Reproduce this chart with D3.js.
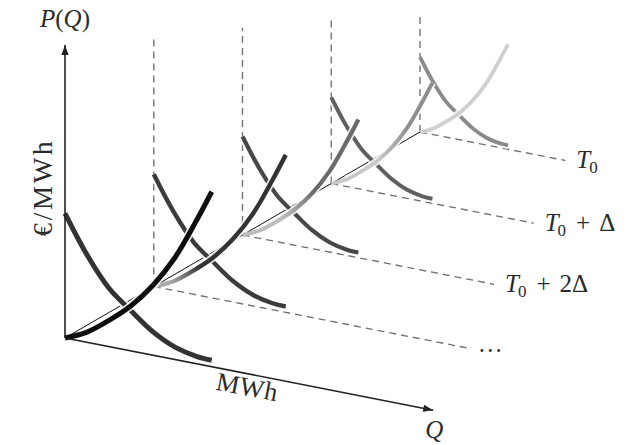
<!DOCTYPE html>
<html><head><meta charset="utf-8">
<script src="https://cdn.jsdelivr.net/npm/d3@7"></script>
<style>
body{margin:0;background:#fff}
svg{display:block}
text{font-family:"Liberation Serif","DejaVu Serif",serif;fill:#2a2a2a}
</style>
</head><body>
<svg id="chart" width="631" height="445"></svg>
<script>
// ---------------- data ----------------
const timeIndex   = [0, 1, 2, 3, 4];                 // slices (front -> back)
const depthScale  = [1, 0.9, 0.79, 0.69, 0.6];        // perspective shrink per slice
const supplyQ     = [0, 1.5, 3, 4.5, 6, 7.5, 9, 10];
const supplyP     = [0, 0.7, 1.8, 3.1, 4.8, 7.0, 9.9, 12.0];
const demandQ     = [0, 1.5, 3, 4.5, 6, 7.5, 9, 10];
const demandP     = [8.55, 6.0, 4.0, 2.75, 1.6, 0.85, 0.5, 0.45];
const guideHeight = [0, 19.2, 18.0, 16.2, 13.5];      // vertical dashed guides (price units)
const guideLength = [0, 23.7, 21.7, 20.0, 16.5];      // dashed guides along Q (MWh units)
const guideLabels = ["", "…", "T0 + 2Δ", "T0 + Δ", "T0"];
const axisPMax = 20.1, axisQMax = 25.1;
const axisLabels = {p: "€/MWh", q: "MWh", pTitle: "P(Q)", qTitle: "Q"};

// ---------------- styles ----------------
const supplyColor     = ['#0d0d0d', '#333333', '#6a6a6a', '#8e8e8e', '#cfcfcf'];
const supplyFadeColor = ['#0d0d0d', '#ababab', '#bdbdbd', '#c9c9c9', '#cfcfcf'];
const fadeFrom = [0, 0.08, 0.25, 0.35, 0];
const fadeTo   = [0, 0.25, 0.5, 0.65, 0];
const demandColor = ['#333333', '#3b3b3b', '#474747', '#606060', '#8a8a8a'];
const strokeW = [5, 4.4, 4.2, 4.0, 3.8];

// ---------------- scales ----------------
const svg = d3.select('#chart');
const qPx = d3.scaleLinear().domain([0, 10]).range([0, 146.7]);
const pPx = d3.scaleLinear().domain([0, 12]).range([0, 175]);
const baseX = d3.scaleLinear().domain([0, 4]).range([65, 420]);
const baseY = d3.scaleLinear().domain([0, 4]).range([338, 132]);
const slope = 0.196;

function proj(t, q, p) {
  const s = depthScale[t];
  const dx = s * qPx(q);
  return [baseX(t) + dx, baseY(t) + dx * slope - s * pPx(p)];
}
const line = d3.line().curve(d3.curveCatmullRom.alpha(0.5));
const straight = d3.line();

const defs = svg.append('defs');

// ---------------- guides ----------------
const gGuides = svg.append('g');
timeIndex.filter(t => t > 0).forEach(t => {
  gGuides.append('path')
    .attr('d', straight([proj(t, 0, 0), proj(t, 0, guideHeight[t])]))
    .attr('stroke', '#707070').attr('stroke-width', 1.35).attr('stroke-dasharray', '7 5').attr('fill', 'none');
  gGuides.append('path')
    .attr('d', straight([proj(t, 0, 0), proj(t, guideLength[t], 0)]))
    .attr('stroke', '#707070').attr('stroke-width', 1.35).attr('stroke-dasharray', '7 5').attr('fill', 'none');
  const end = proj(t, guideLength[t], 0);
  const lab = guideLabels[t];
  const tx = svg.append('text').attr('x', end[0] + 11).attr('y', end[1] + 8).attr('font-size', 25).attr('fill', '#333');
  if (lab.startsWith('T0')) {
    tx.append('tspan').attr('font-style', 'italic').text('T');
    tx.append('tspan').attr('font-size', 17).attr('dx', -1).attr('dy', 5).text('0');
    const rest = lab.slice(2).trim();
    if (rest) {
      const parts = rest.split(' ');
      tx.append('tspan').attr('dx', 10).attr('dy', -5).text(parts[0]);
      tx.append('tspan').attr('dx', 9).text(parts[1]);
    }
  } else {
    tx.attr('y', end[1] + 4).attr('letter-spacing', 2).text(lab);
  }
});

// time axis (thin solid)
svg.append('path')
  .attr('d', straight([proj(0, 0, 0), proj(4, 0, 0)]))
  .attr('stroke', '#111').attr('stroke-width', 1).attr('fill', 'none');

// ---------------- curves ----------------
const gCurves = svg.append('g');
[...timeIndex].reverse().forEach(t => {
  const dPts = demandQ.map((q, i) => proj(t, q, demandP[i]));
  const sPts = supplyQ.map((q, i) => proj(t, q, supplyP[i]));
  // demand
  gCurves.append('path').attr('d', line(dPts)).attr('fill', 'none')
    .attr('stroke', '#fff').attr('stroke-width', strokeW[t] + 3.5).attr('stroke-opacity', 0.85);
  gCurves.append('path').attr('d', line(dPts)).attr('fill', 'none')
    .attr('stroke', demandColor[t]).attr('stroke-width', strokeW[t]);
  // supply with fade gradient
  const gid = 'sg' + t;
  const grad = defs.append('linearGradient').attr('id', gid).attr('gradientUnits', 'userSpaceOnUse')
    .attr('x1', sPts[0][0]).attr('y1', sPts[0][1])
    .attr('x2', sPts[sPts.length - 1][0]).attr('y2', sPts[sPts.length - 1][1]);
  grad.append('stop').attr('offset', 0).attr('stop-color', supplyFadeColor[t]);
  grad.append('stop').attr('offset', fadeFrom[t]).attr('stop-color', supplyFadeColor[t]);
  grad.append('stop').attr('offset', fadeTo[t]).attr('stop-color', supplyColor[t]);
  grad.append('stop').attr('offset', 1).attr('stop-color', supplyColor[t]);
  gCurves.append('path').attr('d', line(sPts.slice(1))).attr('fill', 'none')
    .attr('stroke', '#fff').attr('stroke-width', strokeW[t] + 3.5).attr('stroke-opacity', 0.85);
  gCurves.append('path').attr('d', line(sPts)).attr('fill', 'none')
    .attr('stroke', `url(#${gid})`).attr('stroke-width', strokeW[t]);
});

// ---------------- axes ----------------
function arrow(from, to, color) {
  svg.append('path').attr('d', straight([from, to])).attr('stroke', color).attr('stroke-width', 1.6).attr('fill', 'none');
  const ang = Math.atan2(to[1] - from[1], to[0] - from[0]);
  const L = 10, W = 3.6;
  const bx = to[0] - L * Math.cos(ang), by = to[1] - L * Math.sin(ang);
  const px = -Math.sin(ang) * W, py = Math.cos(ang) * W;
  svg.append('path').attr('d', `M${to[0]},${to[1]}L${bx + px},${by + py}L${bx - px},${by - py}Z`).attr('fill', color);
}
const O = proj(0, 0, 0);
const pTop = proj(0, 0, axisPMax);
const qEnd = proj(0, axisQMax, 0);
arrow(O, pTop, '#222');
arrow(O, qEnd, '#222');

// axis titles
const pt = svg.append('text').attr('x', pTop[0]).attr('y', pTop[1] - 18).attr('text-anchor', 'middle').attr('font-size', 25);
pt.append('tspan').attr('font-style', 'italic').text('P');
pt.append('tspan').text('(');
pt.append('tspan').attr('font-style', 'italic').text('Q');
pt.append('tspan').text(')');

svg.append('text').attr('x', qEnd[0] + 1).attr('y', qEnd[1] + 28).attr('text-anchor', 'middle')
  .attr('font-size', 25).attr('font-style', 'italic').text(axisLabels.qTitle);

const mid = proj(0, 12.3, 0);
const ang = Math.atan(slope) * 180 / Math.PI;
svg.append('text').attr('transform', `translate(${mid[0]},${mid[1] + 22}) rotate(${ang})`)
  .attr('text-anchor', 'middle').attr('font-size', 26).attr('font-style', 'normal').attr('textLength', 62).attr('lengthAdjust', 'spacing')
  .text(axisLabels.q);

svg.append('text').attr('transform', `translate(52,189) rotate(-90)`)
  .attr('text-anchor', 'middle').attr('font-size', 27).attr('textLength', 95).attr('lengthAdjust', 'spacing')
  .text(axisLabels.p);
</script>
</body></html>
